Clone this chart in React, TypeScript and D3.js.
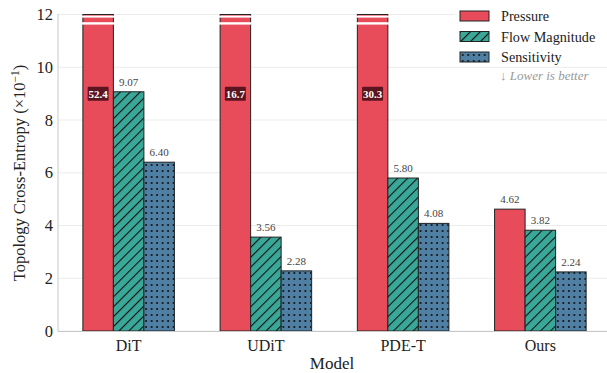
import React from "react";
import * as d3 from "d3";

const models = ["DiT", "UDiT", "PDE-T", "Ours"];
const seriesNames = ["Pressure", "Flow Magnitude", "Sensitivity"];
const pressure = [52.4, 16.7, 30.3, 4.62];
const flowMagnitude = [9.07, 3.56, 5.8, 3.82];
const sensitivity = [6.4, 2.28, 4.08, 2.24];
const yTicks = [0, 2, 4, 6, 8, 10, 12];

const colors = ["#E84C5A", "#3AA898", "#4F7FA3"];
const fills = ["#E84C5A", "url(#hatch)", "url(#dots)"];

const W = 607;
const H = 373;
const yMax = 12;
const font = "Liberation Serif, Times New Roman, serif";

export default function App() {
  const series = [pressure, flowMagnitude, sensitivity];
  const x0 = d3.scaleBand<string>().domain(models).range([60, 609]).paddingInner(0.333).paddingOuter(0.1667);
  const x1 = d3.scaleBand<number>().domain([0, 1, 2]).range([0, x0.bandwidth()]);
  const y = d3.scaleLinear().domain([0, yMax]).range([331, 14.5]);
  const fmt = (v: number) => v.toFixed(2);

  return (
    <svg width={W} height={H} style={{ position: "absolute", left: 0, top: 0, background: "#fff", fontFamily: font }}>
      <defs>
        <pattern id="hatch" patternUnits="userSpaceOnUse" width={7} height={7} patternTransform="rotate(45)">
          <rect width={7} height={7} fill={colors[1]} />
          <line x1={0} y1={0} x2={0} y2={7} stroke="#111" strokeWidth={2.2} />
        </pattern>
        <pattern id="dots" patternUnits="userSpaceOnUse" width={5.5} height={6}>
          <rect width={5.5} height={6} fill={colors[2]} />
          <circle cx={2.75} cy={3} r={1.05} fill="#111" />
        </pattern>
      </defs>

      {/* grid */}
      {yTicks.map((t) => (
        <line key={t} x1={58} x2={W} y1={y(t)} y2={y(t)} stroke="#ececec" strokeWidth={1} />
      ))}

      {/* bars */}
      {models.map((m, gi) => (
        <g key={m} transform={`translate(${x0(m)},0)`}>
          {series.map((vals, si) => {
            const v = vals[gi];
            const clipped = v > yMax;
            const top = y(Math.min(v, yMax));
            const bx = x1(si)!;
            const bw = x1.bandwidth();
            return (
              <g key={si}>
                <rect x={bx} y={top} width={bw} height={y(0) - top} fill={fills[si]} stroke="#222" strokeWidth={1} />
                {clipped && (
                  <>
                    <rect x={bx - 1} y={15.6} width={bw + 2} height={2} fill="#fff" />
                    <rect x={bx - 1} y={22.2} width={bw + 2} height={2.4} fill="#fff" />
                    <rect x={bx + bw / 2 - 10.5} y={y(9) - 7} width={21} height={14} fill="#5B1520" rx={1} />
                    <text x={bx + bw / 2} y={y(9) + 4} textAnchor="middle" fontSize={11} fontWeight="bold" fill="#fff">
                      {v.toFixed(1)}
                    </text>
                  </>
                )}
                {!clipped && (
                  <text x={bx + bw / 2} y={top - 6} textAnchor="middle" fontSize={11} fill="#444">
                    {fmt(v)}
                  </text>
                )}
              </g>
            );
          })}
        </g>
      ))}

      {/* axes */}
      <line x1={58} x2={58} y1={14} y2={331.5} stroke="#c8c8c8" strokeWidth={1} />
      <line x1={58} x2={W} y1={331.5} y2={331.5} stroke="#c8c8c8" strokeWidth={1.2} />
      {yTicks.map((t) => (
        <text key={t} x={53} y={y(t) + 5.5} textAnchor="end" fontSize={16.5} fill="#222">
          {t}
        </text>
      ))}
      {models.map((m) => (
        <text key={m} x={x0(m)! + x0.bandwidth() / 2} y={351} textAnchor="middle" fontSize={16} fill="#222">
          {m}
        </text>
      ))}
      <text x={332} y={369} textAnchor="middle" fontSize={17} fill="#222">
        Model
      </text>
      <text transform="translate(25,173) rotate(-90)" textAnchor="middle" fontSize={16.5} fill="#222">
        Topology Cross-Entropy (×10<tspan dy={-6} fontSize={11.5}>−1</tspan><tspan dy={6}>)</tspan>
      </text>

      {/* legend */}
      <rect x={455} y={4} width={152} height={62} fill="#fff" />
      {seriesNames.map((n, i) => (
        <g key={n} transform={`translate(460,${11 + i * 20.5})`}>
          <rect x={0} y={0} width={29} height={10} fill={fills[i]} stroke="#222" strokeWidth={1} />
          <text x={41} y={10} fontSize={14.2} fill="#222">
            {n}
          </text>
        </g>
      ))}
      <text x={500} y={80} fontSize={13} fontStyle="italic" fill="#999">
        ↓ Lower is better
      </text>
    </svg>
  );
}
